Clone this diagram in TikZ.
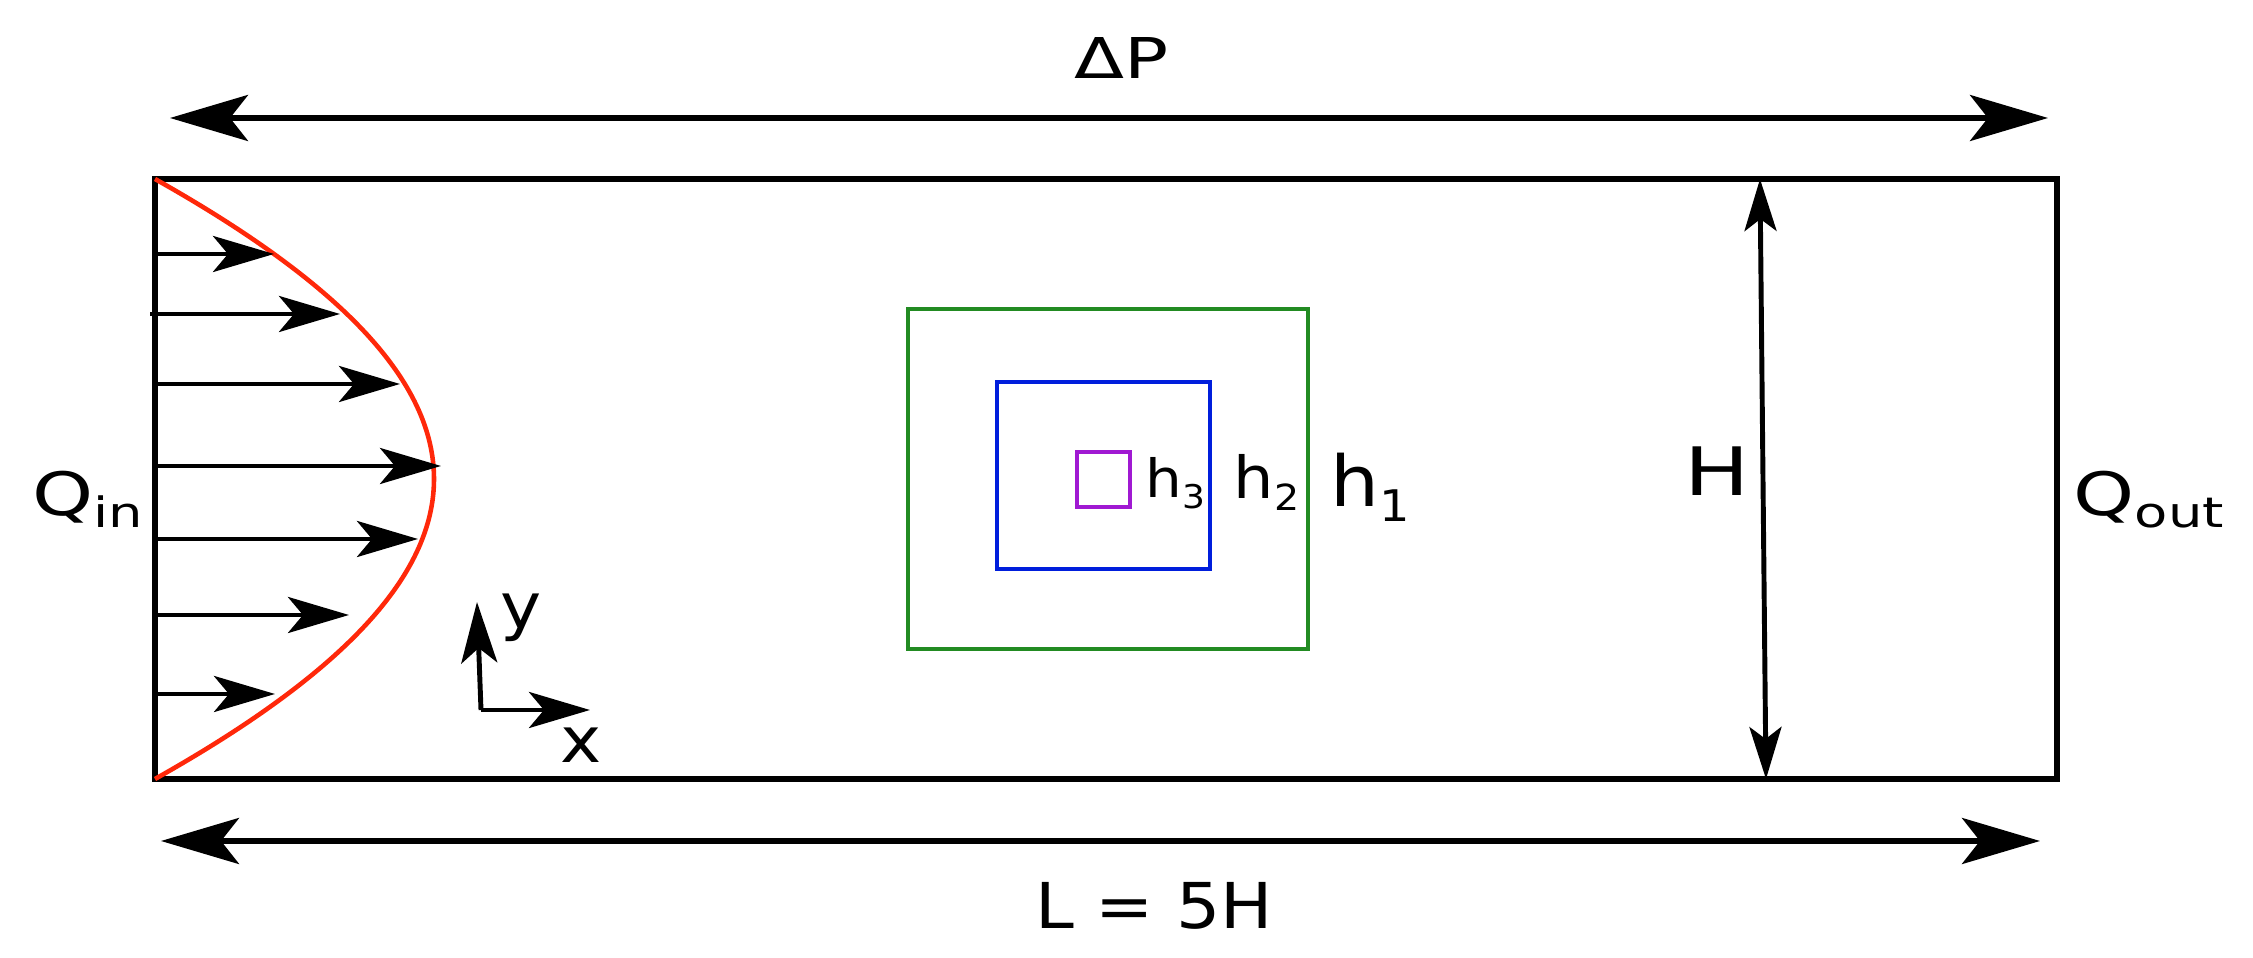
\documentclass[tikz,border=0pt]{standalone}
\usepackage{graphicx}
\usepackage{fontspec}
\setmainfont{DejaVu Sans}[FakeStretch=1.1]
\newfontfamily\widefont{DejaVu Sans}[FakeStretch=1.3]
\usetikzlibrary{arrows.meta}
\definecolor{profred}{RGB}{255,40,10}
\definecolor{boxone}{RGB}{34,139,34}
\definecolor{boxtwo}{RGB}{0,30,220}
\definecolor{boxthree}{RGB}{160,25,210}
\newcommand{\lowidx}[2][0.65]{\raisebox{-0.2em}{\scalebox{#1}{#2}}}

\begin{document}
\begin{tikzpicture}[
	wall/.style={line width=1.7pt},
	bigtip/.tip={Stealth[length=7.8mm,width=4.6mm,inset=1.8mm]},
	smalltip/.tip={Stealth[length=6.1mm,width=3.6mm,inset=1.5mm]},
	htip/.tip={Stealth[length=5.2mm,width=3.2mm,inset=1.2mm]},
	dimarrow/.style={line width=1.6pt, bigtip-bigtip},
	velarrow/.style={line width=1.4pt, -smalltip},
	harrow/.style={line width=1.4pt, htip-htip},
	lbl/.style={inner sep=0pt, font=\fontsize{18}{22}\selectfont},
	widelbl/.style={inner sep=0pt, font=\fontsize{17}{20}\widefont},
	]
			%%%%% START %%%%%
			\useasboundingbox (0,0) rectangle (22.53,9.58);
			
			% channel
			\draw[wall] (1.55,1.79) rectangle (20.57,7.79);
			
			% pressure drop and length
			\coordinate (dpl) at (1.70,8.40);
			\coordinate (dpr) at (20.48,8.40);
			\draw[dimarrow] (dpl) -- (dpr);
			\node[widelbl, anchor=base, font=\fontsize{16}{19}\widefont] (dp) at (11.22,8.79) {ΔP};
			
			\coordinate (lenl) at (1.61,1.17);
			\coordinate (lenr) at (20.40,1.17);
			\draw[dimarrow] (lenl) -- (lenr);
			\node[lbl, anchor=base] (len) at (11.54,0.29) {L = 5H};
			
			% height
			\coordinate (htop) at (17.60,7.79);
			\coordinate (hbot) at (17.66,1.79);
			\draw[harrow] (htop) -- (hbot);
			\node[widelbl, anchor=base west, font=\fontsize{19}{22}\widefont] (hh) at (16.84,4.62) {H};
			
			% inflow and outflow
			\node[widelbl, anchor=base east] (qin) at (1.44,4.42) {Q\lowidx[0.7]{in}};
			\node[widelbl, anchor=base west] (qout) at (20.73,4.42) {Q\lowidx[0.7]{out}};
			
			% inlet profile
			\draw[line width=1.3pt, profred] (1.55,7.79) .. controls (5.27,5.70) and (5.27,3.88) .. (1.55,1.79);
			\foreach \n/\xs/\y/\xe in {1/1.55/7.04/2.74, 2/1.50/6.44/3.40, 3/1.55/5.74/4.00, 4/1.55/4.92/4.41, 5/1.55/4.19/4.18, 6/1.55/3.43/3.49, 7/1.55/2.64/2.75}
			{
				\coordinate (v\n s) at (\xs,\y);
				\coordinate (v\n e) at (\xe,\y);
				\draw[velarrow] (v\n s) -- (v\n e);
			}
			
			% axes
			\coordinate (orig) at (4.81,2.48);
			\coordinate (ytip) at (4.77,3.56);
			\coordinate (xtip) at (5.90,2.48);
			\draw[velarrow] (orig) -- (ytip);
			\draw[velarrow] (orig) -- (xtip);
			\node[lbl, anchor=base west] (ylbl) at (5.00,3.29) {y};
			\node[lbl, anchor=base west] (xlbl) at (5.60,1.95) {x};
			
			% nested boxes
			\draw[line width=1.3pt, boxone] (9.08,3.09) rectangle (13.08,6.49);
			\draw[line width=1.3pt, boxtwo] (9.97,3.89) rectangle (12.10,5.76);
			\draw[line width=1.4pt, boxthree] (10.77,4.51) rectangle (11.30,5.06);
			\node[lbl, anchor=base west, font=\fontsize{15}{18}\selectfont] (hthree) at (11.45,4.60) {h\lowidx[0.62]{3}};
			\node[lbl, anchor=base west, font=\fontsize{16.5}{19}\selectfont] (htwo) at (12.33,4.59) {h\lowidx[0.62]{2}};
			\node[lbl, anchor=base west, font=\fontsize{20}{24}\selectfont] (hone) at (13.30,4.51) {h\lowidx[0.62]{1}};
			
			%%%%% END %%%%%
\end{tikzpicture}
\end{document}
